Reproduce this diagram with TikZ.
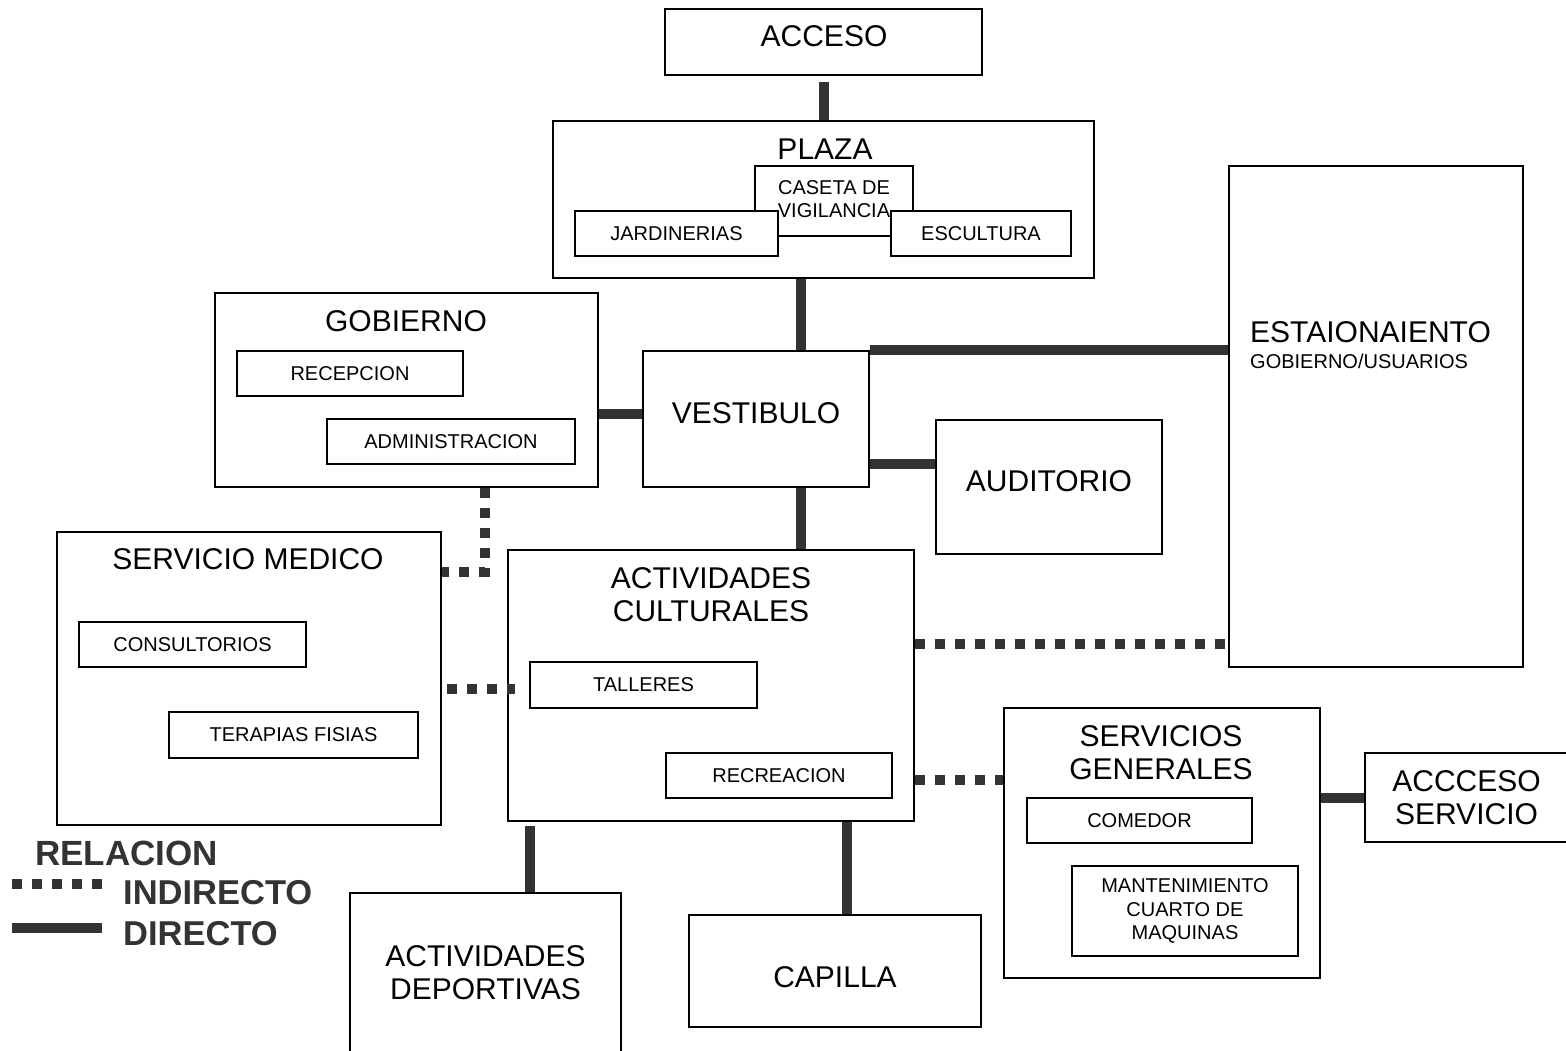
\documentclass[tikz,border=0pt]{standalone}
\usepackage{fontspec}
\setmainfont{Liberation Sans}
\definecolor{gris}{HTML}{333333}
\tikzset{
    x=1pt, y=-1pt, % one unit is one pixel of the plan, y goes down
    caja/.style={draw=black, line width=1.5pt, fill=white, inner sep=0pt}, % every room box
    tam/.style 2 args={minimum width=#1pt, minimum height=#2pt}, % box size in pixels
    grande/.style={font=\fontsize{30}{33}\selectfont, align=center, inner sep=0pt},
    chico/.style={font=\fontsize{20}{23.5}\selectfont, align=center},
    leyenda/.style={font=\bfseries\fontsize{34.5}{34.5}\selectfont, text=gris, anchor=west, inner sep=0pt},
    directo/.style={draw=gris, line width=10pt}, % direct relation
    indirecto/.style={draw=gris, line width=10pt, dash pattern=on 10pt off 10pt}, % indirect relation
}
\begin{document}
\begin{tikzpicture}
\useasboundingbox (0,0) rectangle (1566,1050);

% acceso y plaza
\node[caja, tam={317}{66}] (acceso) at (823.5,42) {};
\node[grande] (tacceso) at (824,36) {ACCESO};
\node[caja, tam={541}{157}] (plaza) at (823.5,199.5) {};
\node[grande] (tplaza) at (825,149) {PLAZA};
\node[caja, tam={158}{70}] (caseta) at (834,201) {};
\node[caja, chico, tam={203}{45}] (jardinerias) at (676.5,233.5) {JARDINERIAS};
\node[caja, chico, tam={180}{45}] (escultura) at (981,233.5) {ESCULTURA};
\node[chico, inner sep=0pt] (tcaseta) at (834,199) {CASETA DE\\VIGILANCIA};

% gobierno y vestibulo
\node[caja, tam={383}{194}] (gobierno) at (406.5,390) {};
\node[grande] (tgobierno) at (406,321) {GOBIERNO};
\node[caja, chico, tam={226}{45}] (recepcion) at (350,373.5) {RECEPCION};
\node[caja, chico, tam={248}{45}] (administracion) at (451,441.5) {ADMINISTRACION};
\node[caja, tam={226}{136}] (vestibulo) at (756,419) {};
\node[grande] (tvestibulo) at (756,413) {VESTIBULO};

% estacionamiento y auditorio
\node[caja, tam={294}{501}] (estacionamiento) at (1376,416.5) {};
\node[grande, anchor=west] (testac) at (1250,332) {ESTAIONAIENTO};
\node[chico, inner sep=0pt, anchor=west] (testac2) at (1250,361) {GOBIERNO/USUARIOS};
\node[caja, tam={226}{134}] (auditorio) at (1049,487) {};
\node[grande] (tauditorio) at (1049,481) {AUDITORIO};

% servicio medico
\node[caja, tam={384}{293}] (medico) at (249,678.5) {};
\node[grande] (tmedico) at (248,559) {SERVICIO MEDICO};
\node[caja, chico, tam={227}{45}] (consultorios) at (192.5,644.5) {CONSULTORIOS};
\node[caja, chico, tam={249}{46}] (terapias) at (293.5,735) {TERAPIAS FISIAS};

% actividades culturales
\node[caja, tam={406}{271}] (culturales) at (711,685.5) {};
\node[grande] (tculturales) at (711,594.5) {ACTIVIDADES\\CULTURALES};
\node[caja, chico, tam={227}{46}] (talleres) at (643.5,685) {TALLERES};
\node[caja, chico, tam={226}{45}] (recreacion) at (779,775.5) {RECREACION};

% servicios generales
\node[caja, tam={316}{270}] (generales) at (1162,843) {};
\node[grande] (tgenerales) at (1161,752.5) {SERVICIOS\\GENERALES};
\node[caja, chico, tam={225}{45}] (comedor) at (1139.5,820.5) {COMEDOR};
\node[caja, chico, tam={226}{90}] (mantenimiento) at (1185,911) {MANTENIMIENTO\\CUARTO DE\\MAQUINAS};
\node[caja, grande, tam={203}{89}] (accservicio) at (1466.5,797.5) {ACCCESO\\SERVICIO};

% deportivas y capilla
\node[caja, tam={271}{180}] (deportivas) at (485.5,983) {};
\node[grande] (tdeportivas) at (485.5,972.5) {ACTIVIDADES\\DEPORTIVAS};
\node[caja, tam={292}{112}] (capilla) at (835,971) {};
\node[grande] (tcapilla) at (835,977) {CAPILLA};

\draw[directo]
    (acceso) edge[shorten <=6pt] (plaza)
    ([xshift=-22.5pt]plaza.south) edge ([xshift=-22.5pt]plaza.south |- vestibulo.north)
    (vestibulo.north east) edge (vestibulo.north east -| estacionamiento.west)
    ([yshift=5pt]vestibulo.west) edge ([yshift=5pt]vestibulo.west -| gobierno.east)
    ([yshift=23pt]auditorio.west) edge ([yshift=23pt]auditorio.west -| vestibulo.east)
    ([xshift=45pt]vestibulo.south) edge ([xshift=45pt]vestibulo.south |- culturales.north)
    ([xshift=44.5pt]deportivas.north) edge[shorten >=4pt] ([xshift=44.5pt]deportivas.north |- culturales.south)
    ([xshift=12pt]capilla.north) edge ([xshift=12pt]capilla.north |- culturales.south)
    (accservicio.west) edge (accservicio.west -| generales.east);

\draw[indirecto] ([xshift=78.5pt]gobierno.south) |- ([yshift=106.5pt]medico.east);
\draw[indirecto]
    ([yshift=-10.5pt]medico.east) edge[shorten <=5pt, shorten >=-8pt] ([yshift=-10.5pt]medico.east -| culturales.west)
    ([yshift=41.5pt]culturales.east) edge ([yshift=41.5pt]culturales.east -| estacionamiento.west)
    ([yshift=-94.5pt]culturales.east) edge ([yshift=-94.5pt]culturales.east -| generales.west);

% leyenda
\node[leyenda, font=\bfseries\fontsize{35}{35}\selectfont] (relacion) at (35,853) {RELACION};
\node[leyenda] (tindirecto) at (123,893) {INDIRECTO};
\node[leyenda] (tdirecto) at (123,934) {DIRECTO};
\coordinate (li1) at (12,884);
\coordinate (li2) at (102,884);
\coordinate (ld1) at (12,928);
\coordinate (ld2) at (102,928);
\draw[indirecto] (li1) -- (li2);
\draw[directo] (ld1) -- (ld2);
\end{tikzpicture}
\end{document}
